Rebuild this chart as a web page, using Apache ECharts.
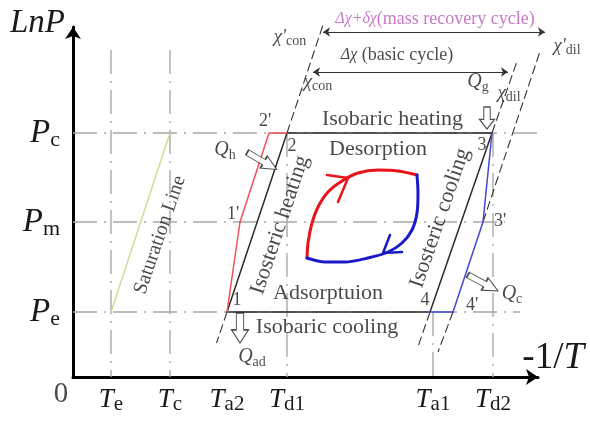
<!DOCTYPE html>
<html><head><meta charset="utf-8">
<script src="https://cdn.jsdelivr.net/npm/echarts@6/dist/echarts.min.js"></script>
<style>html,body{margin:0;padding:0;background:#fff}#c{width:590px;height:425px}</style>
</head><body><div id="c"></div>
<script>
// ---- data (abstract -1/T and lnP units) ----
const xTickValues = [0.76, 1.94, 3.08, 4.28, 7.2, 8.4];
const xTickSub = ['e', 'c', 'a2', 'd1', 'a1', 'd2'];
const yTickValues = [1.3, 3.1, 4.88];
const yTickSub = ['e', 'm', 'c'];

const cycleBasic = [[3.08, 1.30], [4.28, 4.88], [8.38, 4.88], [7.14, 1.30], [3.08, 1.30]];
const redMassRecovery = [[3.08, 1.30], [3.34, 3.10], [3.92, 4.88], [4.28, 4.88]];
const blueMassRecovery = [[8.38, 4.88], [8.20, 3.10], [7.60, 1.30], [7.14, 1.30]];
const saturationLine = [[0.76, 1.30], [1.94, 4.88]];

const guideLines = [
  [[0, 4.88], [9.64, 4.88]],
  [[0, 3.10], [8.64, 3.10]],
  [[0, 1.30], [8.94, 1.30]],
  [[0.76, 6.54], [0.76, 0]],
  [[1.94, 6.54], [1.94, 0]],
  [[4.28, 4.88], [4.28, 0]],
  [[7.20, 1.30], [7.20, 0]],
  [[8.40, 4.88], [8.40, 0]]
];
const isostereExtensions = [
  [[4.28, 4.88], [5.02, 7.10]],
  [[3.08, 1.30], [2.87, 0.68]],
  [[8.38, 4.88], [8.89, 6.34]],
  [[7.14, 1.30], [6.89, 0.58]],
  [[7.60, 1.30], [7.30, 0.50]],
  [[8.20, 3.10], [9.55, 7.14]]
];
const spanArrows = [
  [[5.00, 6.90], [9.44, 6.90]],
  [[4.80, 6.10], [8.70, 6.10]]
];
const lensRed = [[4.68, 2.38], [4.70, 2.68], [4.78, 3.08], [4.90, 3.40], [5.10, 3.70], [5.38, 3.92],
  [5.70, 4.08], [6.10, 4.14], [6.50, 4.12], [6.88, 4.04]];
const lensBlue = [[6.88, 4.04], [6.90, 3.68], [6.88, 3.28], [6.78, 2.94], [6.58, 2.68], [6.30, 2.50],
  [5.90, 2.38], [5.44, 2.30], [5.04, 2.30], [4.68, 2.38]];
const chevronRed = [[5.08, 4.04], [5.50, 3.98], [5.30, 3.50]];
const chevronBlue = [[6.34, 2.84], [6.20, 2.48], [6.58, 2.50]];

const textLabels = ['{r|Isobaric heating}', '{r|Desorption}', '{r|Adsorptuion}', '{r|Isobaric cooling}',
  '{r|Isosteric heating}', '{r|Isosteric cooling}', '{sat|Saturation Line}'];
const textAt = [[6.39, 5.16], [6.10, 4.56], [5.10, 1.68], [5.08, 1.00], [4.14, 3.04], [7.34, 3.18], [1.74, 2.84]];
const textRotate = [0, 0, 0, 0, 71.5, 71, 71];

const pointNames = ["2'", '2', "1'", '1', '3', "3'", '4', "4'"];
const pointNameAt = [[3.84, 5.12], [4.38, 4.62], [3.20, 3.26], [3.28, 1.54], [8.18, 4.64], [8.54, 3.12], [7.04, 1.54], [7.98, 1.44]];

const symbolLabels = ['{qi|Q}{qs|h}', '{qi|Q}{qs|ad}', '{qi|Q}{qs|c}', '{qi|Q}{qs|g}',
  '{ci|χ}{cs|dil}', "{ci|χ'}{cs|dil}", '{ci|χ}{cs|con}', "{ci|χ'}{cs|con}",
  '{pi|Δχ+δχ}{p|(mass recovery cycle)}', '{di|Δχ}{d| (basic cycle)}', '{z|0}'];
const symbolLabelAt = [[3.04, 4.54], [3.58, 0.40], [8.78, 1.66], [8.10, 5.90],
  [8.72, 5.68], [9.88, 6.62], [4.90, 5.90], [4.34, 6.80],
  [7.24, 7.16], [6.48, 6.44], [-0.24, -0.34]];

const heatArrowAt = [[3.78, 4.32], [3.34, 0.98], [8.20, 1.88], [8.28, 5.18]];
const heatArrowAngle = [-30, -90, -28, -90];

// ---- styles ----
const SERIF = 'Liberation Serif';
const INK = '#1a1a1a';
const rich = {
  r: {fontFamily: SERIF, fontSize: 22, color: INK},
  sat: {fontFamily: SERIF, fontSize: 20, color: INK},
  n: {fontFamily: SERIF, fontSize: 18, color: INK},
  qi: {fontFamily: SERIF, fontStyle: 'italic', fontSize: 20, color: INK, lineHeight: 24},
  qs: {fontFamily: SERIF, fontSize: 14, color: INK, lineHeight: 16, verticalAlign: 'bottom'},
  ci: {fontFamily: SERIF, fontStyle: 'italic', fontSize: 19, color: INK, lineHeight: 22},
  cs: {fontFamily: SERIF, fontSize: 14, color: INK, lineHeight: 14, verticalAlign: 'bottom'},
  pi: {fontFamily: SERIF, fontStyle: 'italic', fontSize: 16, color: '#b957b9'},
  p: {fontFamily: SERIF, fontSize: 18, color: '#b957b9'},
  di: {fontFamily: SERIF, fontStyle: 'italic', fontSize: 16, color: INK},
  d: {fontFamily: SERIF, fontSize: 18, color: INK},
  z: {fontFamily: SERIF, fontSize: 29, color: INK},
  t: {fontFamily: SERIF, fontStyle: 'italic', fontSize: 27, color: INK, lineHeight: 30},
  ts: {fontFamily: SERIF, fontSize: 21, color: INK, lineHeight: 20, verticalAlign: 'bottom'},
  P: {fontFamily: SERIF, fontStyle: 'italic', fontSize: 33, color: INK, lineHeight: 36},
  Ps: {fontFamily: SERIF, fontSize: 22, color: INK, lineHeight: 24, verticalAlign: 'bottom'},
  nx: {fontFamily: SERIF, fontSize: 37, color: INK},
  nxi: {fontFamily: SERIF, fontStyle: 'italic', fontSize: 37, color: INK}
};
function nearestIndex(arr, v) {
  let best = 0;
  arr.forEach((a, i) => { if (Math.abs(a - v) < Math.abs(arr[best] - v)) best = i; });
  return best;
}
const dashGray = {color: '#a8a8a8', width: 1.4, type: [24, 7, 2, 7]};
const dashDark = {color: '#333', width: 1.1, type: [9, 4]};

function segSeries(segs, style) {
  return segs.map(s => ({type: 'line', data: s, showSymbol: false, clip: false, silent: true,
    lineStyle: style, z: 2}));
}
function pathSeries(data, color, width, smooth, z) {
  return {type: 'line', data: data, showSymbol: false, clip: false, silent: true,
    smooth: smooth || false, lineStyle: {color: color, width: width, cap: 'round', join: 'round'}, z: z || 3};
}

const series = [].concat(
  segSeries(guideLines, dashGray),
  segSeries(isostereExtensions, dashDark),
  [
    pathSeries(saturationLine, '#c9dc8f', 1.4),
    pathSeries(cycleBasic, '#2b2b2b', 1.5),
    pathSeries(redMassRecovery, '#f0505e', 1.5),
    pathSeries(blueMassRecovery, '#4646d6', 1.5),
    pathSeries(lensRed, '#e8141c', 3, 0.3, 5),
    pathSeries(lensBlue, '#1a1ac8', 3, 0.3, 5),
    pathSeries(chevronRed, '#e8141c', 2.5, false, 5),
    pathSeries(chevronBlue, '#1a1ac8', 2.5, false, 5),
    {
      type: 'lines', coordinateSystem: 'cartesian2d', polyline: false, silent: true, clip: false,
      symbol: ['arrow', 'arrow'], symbolSize: 7,
      lineStyle: {color: '#333', width: 1, opacity: 1},
      data: spanArrows.map(c => ({coords: c})), z: 4
    },
    {
      type: 'scatter', clip: false, silent: true, z: 6,
      symbol: 'path://M0,4L9,4L9,0L16,7L9,14L9,10L0,10Z',
      symbolKeepAspect: false,
      itemStyle: {color: '#fff', borderColor: '#222', borderWidth: 1.2},
      data: heatArrowAt.map((p, i) => ({value: p, symbolRotate: heatArrowAngle[i],
        symbolSize: [[34, 14], [30, 17], [34, 14], [22, 15]][i]}))
    },
    {
      type: 'scatter', clip: false, silent: true, z: 7, symbolSize: 1,
      itemStyle: {color: 'rgba(0,0,0,0)'},
      label: {show: true, position: 'inside', rich: rich},
      data: textLabels.map((t, i) => ({value: textAt[i],
        label: {formatter: t, rotate: textRotate[i]}}))
    },
    {
      type: 'scatter', clip: false, silent: true, z: 7, symbolSize: 1,
      itemStyle: {color: 'rgba(0,0,0,0)'},
      label: {show: true, position: 'inside', rich: rich},
      data: pointNames.map((t, i) => ({value: pointNameAt[i], label: {formatter: '{n|' + t + '}'}}))
    },
    {
      type: 'scatter', clip: false, silent: true, z: 7, symbolSize: 1,
      itemStyle: {color: 'rgba(0,0,0,0)'},
      label: {show: true, position: 'inside', rich: rich},
      data: symbolLabels.map((t, i) => ({value: symbolLabelAt[i], label: {formatter: t}}))
    }
  ]
);

const chart = echarts.init(document.getElementById('c'), null, {renderer: 'canvas'});
chart.setOption({
  animation: false,
  backgroundColor: '#fff',
  grid: {left: 73, right: 52, top: 27, bottom: 48, containLabel: false, outerBoundsMode: 'none'},
  xAxis: {
    type: 'value', min: 0, max: 9.3,
    name: '{nx|-1/}{nxi|T}', nameLocation: 'end', nameGap: 46,
    nameTextStyle: {align: 'right', verticalAlign: 'bottom', rich: rich},
    axisLine: {lineStyle: {color: '#000', width: 3}, symbol: ['none', 'arrow'], symbolSize: [12, 12]},
    axisTick: {show: false}, splitLine: {show: false},
    axisLabel: {customValues: xTickValues, margin: 8, rich: rich,
      formatter: v => '{t|T}{ts|' + xTickSub[nearestIndex(xTickValues, v)] + '}'}
  },
  yAxis: {
    type: 'value', min: 0, max: 7,
    name: 'LnP', nameLocation: 'end', nameGap: 4,
    nameTextStyle: {align: 'right', verticalAlign: 'middle', padding: [0, 8, 0, 0],
      fontFamily: SERIF, fontStyle: 'italic', fontSize: 33, color: INK},
    axisLine: {lineStyle: {color: '#000', width: 3}, symbol: ['none', 'arrow'], symbolSize: [12, 12]},
    axisTick: {show: false}, splitLine: {show: false},
    axisLabel: {customValues: yTickValues, margin: 13, rich: rich,
      formatter: v => '{P|P}{Ps|' + yTickSub[nearestIndex(yTickValues, v)] + '}'}
  },
  series: series
});
</script>
</body></html>
